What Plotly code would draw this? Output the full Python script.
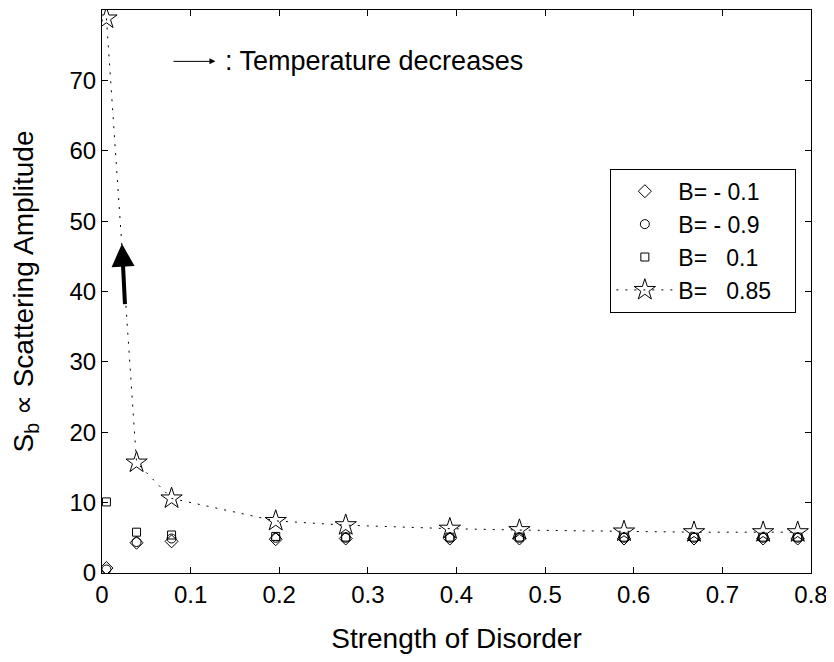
import plotly.graph_objects as go

x = [0.005, 0.039, 0.0785, 0.196, 0.275, 0.3925, 0.471, 0.589, 0.668, 0.746, 0.785]
b_m01 = [0.7, 4.3, 4.5, 4.8, 4.9, 4.9, 4.9, 4.9, 4.9, 4.9, 4.9]
b_m09 = [0.5, 4.4, 4.9, 5.0, 5.0, 5.0, 5.0, 5.0, 5.0, 5.0, 5.0]
b_p01 = [10.1, 5.8, 5.4, 5.2, 5.1, 5.1, 5.1, 5.1, 5.1, 5.1, 5.1]
b_p085 = [78.8, 15.7, 10.6, 7.4, 6.8, 6.3, 6.1, 5.9, 5.8, 5.8, 5.8]

x_ticks = [0, 0.1, 0.2, 0.3, 0.4, 0.5, 0.6, 0.7, 0.8]
x_tick_labels = ["0", "0.1", "0.2", "0.3", "0.4", "0.5", "0.6", "0.7", "0.8"]
y_ticks = [0, 10, 20, 30, 40, 50, 60, 70, 80]

FONT = "Liberation Sans"

fig = go.Figure()
fig.add_trace(go.Scatter(x=x, y=b_m01, mode="markers", name="B= - 0.1",
                         marker=dict(symbol="diamond-open", size=10, color="black",
                                     line=dict(width=1, color="black"))))
fig.add_trace(go.Scatter(x=x, y=b_m09, mode="markers", name="B= - 0.9",
                         marker=dict(symbol="circle-open", size=9, color="black",
                                     line=dict(width=1, color="black"))))
fig.add_trace(go.Scatter(x=x, y=b_p01, mode="markers", name="B=   0.1",
                         marker=dict(symbol="square-open", size=8, color="black",
                                     line=dict(width=1, color="black"))))
fig.add_trace(go.Scatter(x=x, y=b_p085, mode="lines+markers", name="B=   0.85   ",
                         line=dict(color="black", width=1, dash="2px,7px"),
                         marker=dict(symbol="star-open", size=16, color="black",
                                     line=dict(width=1, color="black"))))

# Big arrow
fig.add_annotation(x=0.0225, y=46.8, ax=0.026, ay=38.0, xref="x", yref="y",
                   axref="x", ayref="y", showarrow=True, arrowhead=2,
                   arrowsize=1.15, arrowwidth=4, arrowcolor="black", text="")
# Small legend arrow
fig.add_annotation(x=0.128, y=72.7, ax=0.079, ay=72.7, xref="x", yref="y",
                   axref="x", ayref="y", showarrow=True, arrowhead=2,
                   arrowsize=1.2, arrowwidth=1, arrowcolor="black", text="")
fig.add_annotation(x=0.136, y=72.7, xref="x", yref="y", showarrow=False,
                   text=": Temperature decreases", xanchor="left", yanchor="middle",
                   font=dict(family=FONT, size=27, color="black"))

fig.update_layout(
    width=826, height=646,
    margin=dict(l=94, r=23, t=2, b=81),
    paper_bgcolor="white", plot_bgcolor="white",
    font=dict(family=FONT, size=24, color="black"),
    showlegend=True,
    legend=dict(x=0.717, y=0.718, xanchor="left", yanchor="top",
                bordercolor="black", borderwidth=1, bgcolor="white",
                font=dict(family=FONT, size=23, color="black"),
                itemwidth=57, tracegroupgap=0),
)
fig.update_xaxes(range=[0, 0.8], tickvals=x_ticks, ticktext=x_tick_labels,
                 showgrid=False, zeroline=False, showline=True, linecolor="black",
                 linewidth=1, mirror="ticks", ticks="inside", ticklen=6,
                 tickcolor="black", automargin=False, ticklabeloverflow="allow",
                 title=dict(text="Strength of Disorder", standoff=22,
                            font=dict(family=FONT, size=28)),
                 tickfont=dict(family=FONT, size=24))
fig.update_yaxes(range=[0, 80], tickvals=y_ticks,
                 showgrid=False, zeroline=False, showline=True, linecolor="black",
                 linewidth=1, mirror="ticks", ticks="inside", ticklen=6,
                 tickcolor="black", automargin=False,
                 title=dict(text="S<sub>b</sub> \u221d Scattering Amplitude", standoff=30,
                            font=dict(family=FONT, size=28)),
                 tickfont=dict(family=FONT, size=24))

fig.write_html("out.html")
